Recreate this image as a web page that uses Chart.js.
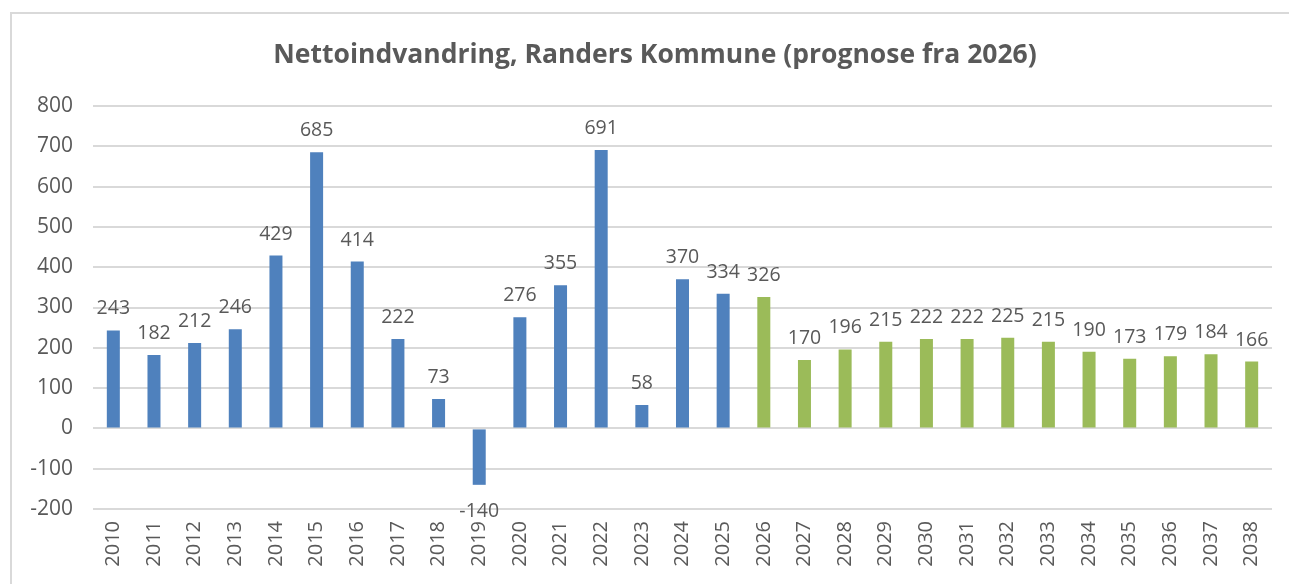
<!DOCTYPE html>
<html>
<head>
<meta charset="utf-8">
<script src="https://cdn.jsdelivr.net/npm/chart.js@4.4.1/dist/chart.umd.min.js"></script>
<style>
  html, body { margin: 0; padding: 0; background: #fff; overflow: hidden; }
  #wrap { position: relative; width: 1289px; height: 584px; }
  #frame { position: absolute; left: 10px; top: 12px; width: 1300px; height: 600px; border: 2px solid #d9d9d9; box-sizing: border-box; pointer-events: none; }
  canvas { position: absolute; left: 0; top: 0; }
</style>
</head>
<body>
<div id="wrap">
  <div id="frame"></div>
  <canvas id="c" width="1289" height="584"></canvas>
</div>
<script>
const titleText = 'Nettoindvandring, Randers Kommune (prognose fra 2026)';
const years = ['2010','2011','2012','2013','2014','2015','2016','2017','2018','2019',
               '2020','2021','2022','2023','2024','2025','2026','2027','2028','2029',
               '2030','2031','2032','2033','2034','2035','2036','2037','2038'];
const values = [243, 182, 212, 246, 429, 685, 414, 222, 73, -140,
                276, 355, 691, 58, 370, 334, 326, 170, 196, 215,
                222, 222, 225, 215, 190, 173, 179, 184, 166];
const forecastFrom = '2026';
const yMin = -200, yMax = 800, yStep = 100;

const BLUE = '#4f81bd', GREEN = '#9bbb59', TXT = '#595959';
const fIdx = years.indexOf(forecastFrom);
const colors = years.map((y, i) => i >= fIdx ? GREEN : BLUE);
const FONT = "'Open Sans', 'DejaVu Sans', sans-serif";

const titlePlugin = {
  id: 'frameTitle',
  afterDraw(chart) {
    const ctx = chart.ctx;
    ctx.save();
    ctx.font = "bold 26.5px " + FONT;
    ctx.fillStyle = TXT;
    ctx.textAlign = 'center';
    ctx.textBaseline = 'middle';
    ctx.fillText(titleText, 655, 55);
    ctx.restore();
  }
};

const labelPlugin = {
  id: 'barLabels',
  afterDatasetsDraw(chart) {
    const ctx = chart.ctx;
    const meta = chart.getDatasetMeta(0);
    ctx.save();
    ctx.font = "19.5px " + FONT;
    ctx.fillStyle = TXT;
    ctx.textAlign = 'center';
    ctx.textBaseline = 'alphabetic';
    meta.data.forEach((el, i) => {
      const v = chart.data.datasets[0].data[i];
      if (v >= 0) {
        ctx.fillText(String(v), el.x, el.y - 16);
      } else {
        ctx.fillText(String(v), el.x, el.y + 32);
      }
    });
    ctx.restore();
  }
};

new Chart(document.getElementById('c'), {
  type: 'bar',
  data: {
    labels: years,
    datasets: [{
      data: values,
      backgroundColor: colors,
      borderWidth: 0,
      categoryPercentage: 1.0,
      barPercentage: 0.32
    }]
  },
  options: {
    responsive: false,
    animation: false,
    devicePixelRatio: 1,
    layout: { padding: { left: 0, right: 17, top: 106, bottom: 0 } },
    plugins: {
      legend: { display: false },
      tooltip: { enabled: false },
      title: { display: false }
    },
    scales: {
      x: {
        grid: { display: false, drawTicks: false },
        border: { display: false },
        ticks: {
          color: TXT,
          font: { family: FONT, size: 20 },
          minRotation: 90, maxRotation: 90,
          padding: 12,
          autoSkip: false
        },
        afterFit(scale) { scale.height = 75; }
      },
      y: {
        min: yMin, max: yMax,
        grid: { color: '#d9d9d9', lineWidth: 2, drawTicks: false },
        border: { display: false },
        ticks: {
          stepSize: yStep,
          color: TXT,
          font: { family: FONT, size: 21 },
          padding: 20
        },
        afterFit(scale) { scale.width = 93; }
      }
    }
  },
  plugins: [labelPlugin, titlePlugin]
});
</script>
</body>
</html>
